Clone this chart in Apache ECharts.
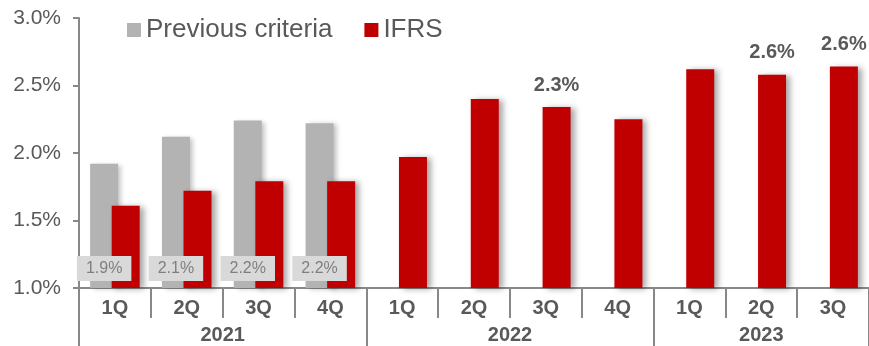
<!DOCTYPE html>
<html>
<head>
<meta charset="utf-8">
<style>
  html, body { margin: 0; padding: 0; background: #ffffff; }
  #chart { width: 869px; height: 346px; }
</style>
<script src="https://cdn.jsdelivr.net/npm/echarts@6/dist/echarts.min.js"></script>
</head>
<body>
<div id="chart"></div>
<script>
// Quarterly ratio, previous criteria vs IFRS
const quarters = ['1Q', '2Q', '3Q', '4Q', '1Q', '2Q', '3Q', '4Q', '1Q', '2Q', '3Q'];
const yearOfQuarter = ['2021', '2021', '2021', '2021', '2022', '2022', '2022', '2022', '2023', '2023', '2023'];
const previousCriteria = [1.92, 2.12, 2.24, 2.22, null, null, null, null, null, null, null];
const ifrs = [1.61, 1.72, 1.79, 1.79, 1.97, 2.40, 2.34, 2.25, 2.62, 2.58, 2.64];
const ifrsLabelled = [6, 9, 10];
const yTicks = { min: 1.0, max: 3.0, step: 0.5 };

const textColor = '#595959';
const axisColor = '#888888';
const font = '"Liberation Sans", Arial, sans-serif';
const pct = v => v.toFixed(1) + '%';

// Year label sits at the middle of its group of quarters
function yearRange(index) {
  const y = yearOfQuarter[index];
  return [yearOfQuarter.indexOf(y), yearOfQuarter.lastIndexOf(y)];
}
function yearLabelIndex(index) {
  const [first, last] = yearRange(index);
  return index === Math.floor((first + last) / 2);
}
function yearNeedsShift(index) {
  const [first, last] = yearRange(index);
  return (last - first + 1) % 2 === 0;
}

const chart = echarts.init(document.getElementById('chart'), null, { renderer: 'canvas' });

chart.setOption({
  animation: false,
  textStyle: { fontFamily: font },
  legend: {
    data: ['Previous criteria', 'IFRS'],
    left: 127,
    top: 17,
    padding: 0,
    icon: 'rect',
    itemWidth: 14,
    itemHeight: 14,
    itemGap: 32,
    textStyle: { fontSize: 26, color: textColor, fontFamily: font }
  },
  grid: { left: 79, top: 18, width: 795, bottom: 58, containLabel: false },
  xAxis: [
    {
      type: 'category',
      data: quarters,
      position: 'bottom',
      axisLine: { show: true, lineStyle: { color: axisColor, width: 2 } },
      axisTick: { show: true, interval: 0, length: 30, lineStyle: { color: axisColor, width: 2 } },
      axisLabel: {
        interval: 0, margin: 10,
        fontSize: 20, fontWeight: 'bold', color: textColor, fontFamily: font
      }
    },
    {
      type: 'category',
      data: yearOfQuarter,
      position: 'bottom',
      axisLine: { show: false },
      axisTick: {
        show: true,
        length: 60,
        interval: index => yearRange(index)[0] === index,
        lineStyle: { color: axisColor, width: 2 }
      },
      axisLabel: {
        interval: index => yearLabelIndex(index),
        margin: 37,
        fontSize: 20, fontWeight: 'bold', color: textColor, fontFamily: font,
        formatter: (value, index) => yearNeedsShift(index) ? '{s|' + value + '}' : value,
        rich: {
          s: { padding: [0, 0, 0, 72], fontSize: 20, fontWeight: 'bold', color: textColor, fontFamily: font }
        }
      }
    }
  ],
  yAxis: {
    type: 'value',
    min: yTicks.min,
    max: yTicks.max,
    interval: yTicks.step,
    axisLine: { show: true, lineStyle: { color: axisColor, width: 2 } },
    axisTick: { show: true, length: 6, lineStyle: { color: axisColor, width: 2 } },
    splitLine: { show: false },
    axisLabel: {
      formatter: pct, margin: 18,
      fontSize: 21, color: textColor, fontFamily: font
    }
  },
  series: [
    {
      name: 'Previous criteria',
      type: 'bar',
      xAxisIndex: 0,
      data: previousCriteria,
      barWidth: 28,
      barGap: '-23%',
      itemStyle: {
        color: '#b3b3b3',
        shadowColor: 'rgba(0,0,0,0.25)', shadowBlur: 5, shadowOffsetX: 3, shadowOffsetY: 1
      },
      label: {
        show: true,
        position: 'insideBottom',
        distance: 7,
        formatter: p => pct(p.value),
        fontSize: 16,
        color: '#7f7f7f',
        fontFamily: font,
        backgroundColor: '#d9d9d9',
        padding: [5, 9, 4, 9]
      },
      z: 2
    },
    {
      name: 'IFRS',
      type: 'bar',
      xAxisIndex: 0,
      data: ifrs.map((v, i) => ({
        value: v,
        label: { show: ifrsLabelled.includes(i) }
      })),
      barWidth: 28,
      itemStyle: {
        color: '#c00000',
        shadowColor: 'rgba(0,0,0,0.35)', shadowBlur: 6, shadowOffsetX: 4, shadowOffsetY: 1
      },
      label: {
        show: false,
        position: 'top',
        distance: 12,
        formatter: p => pct(p.value),
        fontSize: 20,
        fontWeight: 'bold',
        color: textColor,
        fontFamily: font
      },
      z: 2
    }
  ]
});
</script>
</body>
</html>
